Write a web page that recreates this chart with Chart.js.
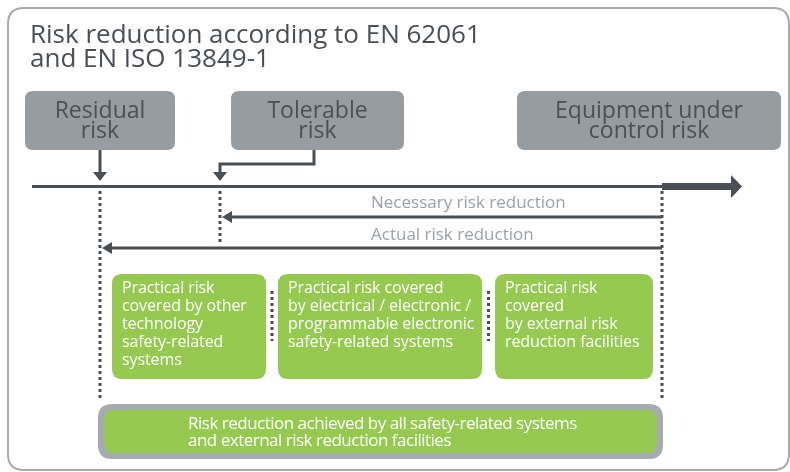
<!DOCTYPE html>
<html><head><meta charset="utf-8">
<script src="https://cdn.jsdelivr.net/npm/chart.js@4/dist/chart.umd.min.js"></script>
<style>html,body{margin:0;padding:0;background:#fff}canvas{display:block}</style>
</head><body>
<canvas id="c" width="790" height="472"></canvas>
<script>
// ---- data ----
const titleLines = ['Risk reduction according to EN 62061', 'and EN ISO 13849-1'];
const riskLabels = [['Residual', 'risk'], ['Tolerable', 'risk'], ['Equipment under', 'control risk']];
const riskLevels = [100, 220, 662];           // residual, tolerable, EUC risk on the risk axis
const reductionLabels = ['Necessary risk reduction', 'Actual risk reduction'];
const reductionFrom = [662, 662];
const reductionTo = [220, 100];
const practicalLabels = [
  ['Practical risk', 'covered by other', 'technology', 'safety-related', 'systems'],
  ['Practical risk covered', 'by electrical / electronic /', 'programmable electronic', 'safety-related systems'],
  ['Practical risk', 'covered', 'by external risk', 'reduction facilities']
];
const practicalFrom = [112, 278, 495];
const practicalTo = [266, 482, 653];
const totalLabel = ['Risk reduction achieved by all safety-related systems', 'and external risk reduction facilities'];

// ---- layout / style ----
const L = {
  axisY: 186.5, axisStart: 32, axisTip: 742,
  riskBoxX: [[25, 175], [231, 404], [517, 781]], riskBoxY: [91, 150],
  arrowY: [217, 248], labelY: [203, 235],
  greenY: [274, 379], totalX: [98, 663], totalY: [404, 459]
};
const C = { dark: '#4a4f55', box: '#979ca1', boxText: '#4b5056', light: '#9ca1a6',
  green: '#96c94f', border: '#a6abb0', white: '#ffffff' };
const FONT = '"Open Sans", "DejaVu Sans", sans-serif';

function seg(points, width, dash) {
  return { data: points, showLine: true, borderColor: C.dark, borderWidth: width,
    borderDash: dash || [], pointRadius: 0, pointHoverRadius: 0, fill: false, tension: 0,
    borderCapStyle: 'butt', borderJoinStyle: 'miter' };
}
const [rRes, rTol, rEuc] = riskLevels;
const datasets = [
  seg([{ x: L.axisStart, y: L.axisY }, { x: rEuc, y: L.axisY }], 3),
  seg([{ x: rEuc, y: L.axisY }, { x: L.axisTip - 10, y: L.axisY }], 7),
  seg([{ x: rRes, y: L.riskBoxY[1] }, { x: rRes, y: 173 }], 3),
  seg([{ x: 314, y: L.riskBoxY[1] }, { x: 314, y: 164 }, { x: rTol, y: 164 }, { x: rTol, y: 173 }], 3),
  seg([{ x: reductionFrom[0], y: L.arrowY[0] }, { x: reductionTo[0] + 10, y: L.arrowY[0] }], 3),
  seg([{ x: reductionFrom[1], y: L.arrowY[1] }, { x: reductionTo[1] + 10, y: L.arrowY[1] }], 3),
  seg([{ x: rRes, y: 191 }, { x: rRes, y: 398 }], 3, [3, 3]),
  seg([{ x: rTol, y: 191 }, { x: rTol, y: 244 }], 3, [3, 3]),
  seg([{ x: rEuc, y: 191 }, { x: rEuc, y: 398 }], 3, [3, 3]),
  seg([{ x: (practicalTo[0] + practicalFrom[1]) / 2, y: 291 }, { x: (practicalTo[0] + practicalFrom[1]) / 2, y: 341 }], 3, [3, 3]),
  seg([{ x: (practicalTo[1] + practicalFrom[2]) / 2, y: 291 }, { x: (practicalTo[1] + practicalFrom[2]) / 2, y: 341 }], 3, [3, 3])
];

function rrect(ctx, x, y, w, h, r) {
  ctx.beginPath();
  ctx.moveTo(x + r, y);
  ctx.lineTo(x + w - r, y); ctx.quadraticCurveTo(x + w, y, x + w, y + r);
  ctx.lineTo(x + w, y + h - r); ctx.quadraticCurveTo(x + w, y + h, x + w - r, y + h);
  ctx.lineTo(x + r, y + h); ctx.quadraticCurveTo(x, y + h, x, y + h - r);
  ctx.lineTo(x, y + r); ctx.quadraticCurveTo(x, y, x + r, y);
  ctx.closePath();
}
function tri(ctx, pts) {
  ctx.beginPath(); ctx.moveTo(pts[0][0], pts[0][1]);
  ctx.lineTo(pts[1][0], pts[1][1]); ctx.lineTo(pts[2][0], pts[2][1]); ctx.closePath(); ctx.fill();
}

const diagram = {
  id: 'diagram',
  beforeDatasetsDraw(chart) {
    const ctx = chart.ctx, sx = chart.scales.x, sy = chart.scales.y;
    const X = v => sx.getPixelForValue(v), Y = v => sy.getPixelForValue(v);
    ctx.save();
    // outer frame
    ctx.strokeStyle = C.border; ctx.lineWidth = 2;
    rrect(ctx, X(8), Y(8), X(789) - X(8), Y(470) - Y(8), 16); ctx.stroke();
    // title
    ctx.fillStyle = C.dark; ctx.font = '26px ' + FONT; ctx.textBaseline = 'alphabetic'; ctx.textAlign = 'left';
    ctx.letterSpacing = '0px';
    ctx.fillText(titleLines[0], X(30), Y(43));
    ctx.fillText(titleLines[1], X(30), Y(67));
    // risk boxes
    riskLabels.forEach((lab, i) => {
      const [a, b] = L.riskBoxX[i];
      ctx.fillStyle = C.box;
      rrect(ctx, X(a), Y(L.riskBoxY[0]), X(b) - X(a), Y(L.riskBoxY[1]) - Y(L.riskBoxY[0]), 8); ctx.fill();
      ctx.fillStyle = C.boxText; ctx.font = '23px ' + FONT; ctx.textAlign = 'center'; ctx.textBaseline = 'middle';
      ctx.letterSpacing = '0px';
      lab.forEach((t, j) => ctx.fillText(t, (X(a) + X(b)) / 2, Y(111 + j * 20)));
    });
    // reduction labels
    ctx.fillStyle = C.light; ctx.font = '17px ' + FONT; ctx.textAlign = 'left'; ctx.textBaseline = 'middle';
    ctx.letterSpacing = '0px';
    reductionLabels.forEach((t, i) => ctx.fillText(t, X(371), Y(L.labelY[i])));
    // practical boxes
    practicalLabels.forEach((lines, i) => {
      const a = practicalFrom[i], b = practicalTo[i];
      ctx.fillStyle = C.green;
      rrect(ctx, X(a), Y(L.greenY[0]), X(b) - X(a), Y(L.greenY[1]) - Y(L.greenY[0]), 10); ctx.fill();
      ctx.fillStyle = C.white; ctx.font = '16px ' + FONT; ctx.textAlign = 'left'; ctx.textBaseline = 'middle';
      ctx.letterSpacing = '-0.1px';
      lines.forEach((t, j) => ctx.fillText(t, X(a + 10), Y(288 + j * 18)));
    });
    // total box
    const [ta, tb] = L.totalX, [ty0, ty1] = L.totalY;
    ctx.fillStyle = C.border;
    rrect(ctx, X(ta), Y(ty0), X(tb) - X(ta), Y(ty1) - Y(ty0), 14); ctx.fill();
    ctx.fillStyle = C.green;
    rrect(ctx, X(ta + 6), Y(ty0 + 6), X(tb - 6) - X(ta + 6), Y(ty1 - 6) - Y(ty0 + 6), 10); ctx.fill();
    ctx.fillStyle = C.white; ctx.font = '17px ' + FONT; ctx.textAlign = 'left'; ctx.textBaseline = 'middle';
    ctx.letterSpacing = '-0.5px';
    totalLabel.forEach((t, j) => ctx.fillText(t, X(188), Y(424 + j * 17)));
    ctx.restore();
  },
  afterDatasetsDraw(chart) {
    const ctx = chart.ctx, sx = chart.scales.x, sy = chart.scales.y;
    const X = v => sx.getPixelForValue(v), Y = v => sy.getPixelForValue(v);
    ctx.save(); ctx.fillStyle = C.dark;
    // main axis head
    tri(ctx, [[X(L.axisTip), Y(L.axisY)], [X(L.axisTip - 11), Y(L.axisY - 11.5)], [X(L.axisTip - 11), Y(L.axisY + 11.5)]]);
    // down arrows
    [rRes, rTol].forEach(x => tri(ctx, [[X(x), Y(181)], [X(x - 7), Y(172)], [X(x + 7), Y(172)]]));
    // reduction arrows
    reductionTo.forEach((x, i) => {
      const y = L.arrowY[i];
      tri(ctx, [[X(x + 2), Y(y)], [X(x + 12), Y(y - 6)], [X(x + 12), Y(y + 6)]]);
    });
    ctx.restore();
  }
};

new Chart(document.getElementById('c'), {
  type: 'scatter',
  data: { datasets },
  options: {
    responsive: false, animation: false, events: [],
    layout: { padding: 0 },
    plugins: { legend: { display: false }, tooltip: { enabled: false } },
    scales: {
      x: { type: 'linear', min: 0, max: 790, display: false },
      y: { type: 'linear', min: 0, max: 472, reverse: true, display: false }
    }
  },
  plugins: [diagram]
});
</script>
</body></html>
